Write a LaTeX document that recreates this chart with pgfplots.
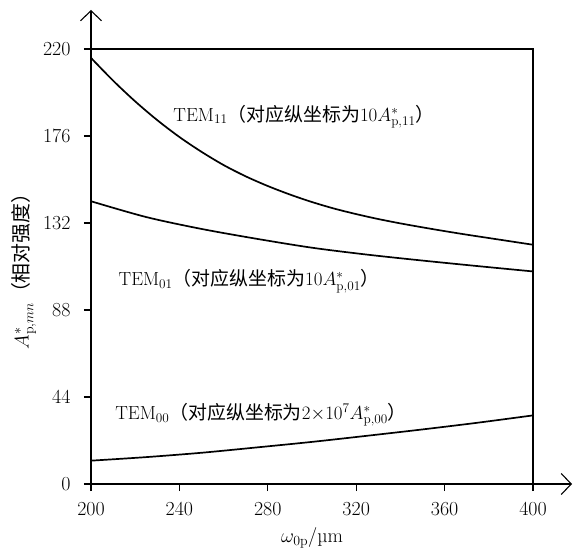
\RequirePackage{fix-cm}
\documentclass[border=0pt]{standalone}
\usepackage{fontspec}
\newfontfamily\cjk{Noto Sans CJK SC}
\usepackage{pgfplots}
\pgfplotsset{compat=1.18}
\usetikzlibrary{arrows.meta}

% values (relative intensity)
\pgfplotstableread{
w     a11
200   215.5
210   204
220   193.5
230   184
240   175.5
250   168
260   161.3
270   155.6
280   150.7
290   146.4
300   142.6
310   139.3
320   136.5
330   134
340   131.8
350   129.8
360   127.9
370   126.1
380   124.4
390   122.7
400   121
}\temoneone
\pgfplotstableread{
w     a01
200   143
225   135
250   129
275   124
300   119.5
325   116
350   113
375   110.2
400   107.5
}\temzeroone
\pgfplotstableread{
w     a00
200   11.8
225   13.6
250   15.8
275   18.5
300   21.3
325   24.4
350   27.6
375   31.0
400   34.7
}\temzerozero

\newcommand\figfont{\fontsize{19}{22}\selectfont}

\begin{document}
\begin{tikzpicture}[font=\figfont]
% page frame: axis box is (0,0)--(442bp,435bp)
\useasboundingbox (-91bp,-68bp) rectangle (482bp,484bp);
\begin{axis}[
 scale only axis, width=442bp, height=435bp,
 xmin=200, xmax=400, ymin=0, ymax=220,
 xtick={200,240,...,400}, ytick={0,44,...,220},
 tick align=outside, xtick pos=bottom, ytick pos=left,
 major tick length=7bp,
 axis line style={line width=1.3bp},
 tick style={line width=1.1bp, black},
 /pgf/number format/assume math mode=true,
 tick label style={font=\fontsize{20}{22}\selectfont},
 yticklabel style={xshift=-10bp},
 xticklabel style={yshift=-8bp},
 label style={font=\fontsize{20}{22}\selectfont},
 xlabel style={yshift=-5bp},
 xlabel={$\omega_{0\mathrm{p}}$/µm},
 ylabel={$A^{*}_{\mathrm{p},mn}${\cjk（相对强度）}},
 clip=false,
]
\addplot[black, line width=1.7bp, smooth] table[x=w, y=a11] {\temoneone};
\addplot[black, line width=1.7bp, smooth] table[x=w, y=a01] {\temzeroone};
\addplot[black, line width=1.7bp, smooth] table[x=w, y=a00] {\temzerozero};

\node[anchor=west, font=\figfont] at (axis cs:235.7,185.8) {TEM$_{11}${\cjk（对应纵坐标为}10$A^{*}_{\mathrm{p},11}${\cjk）}};
\node[anchor=west, font=\figfont] at (axis cs:210.9,102.5) {TEM$_{01}${\cjk（对应纵坐标为}10$A^{*}_{\mathrm{p},01}${\cjk）}};
\node[anchor=west, font=\figfont] at (axis cs:209.4,35) {TEM$_{00}${\cjk（对应纵坐标为}2$\times$10$^{7}A^{*}_{\mathrm{p},00}${\cjk）}};

\coordinate (tl) at (rel axis cs:0,1);
\coordinate (br) at (rel axis cs:1,0);
\end{axis}
\draw[line width=1.1bp, -{Straight Barb[length=10bp,width=21bp]}] (tl) -- ++(0,39bp);
\draw[line width=1.1bp, -{Straight Barb[length=10bp,width=21bp]}] (br) -- ++(39bp,0);
\end{tikzpicture}
\end{document}
